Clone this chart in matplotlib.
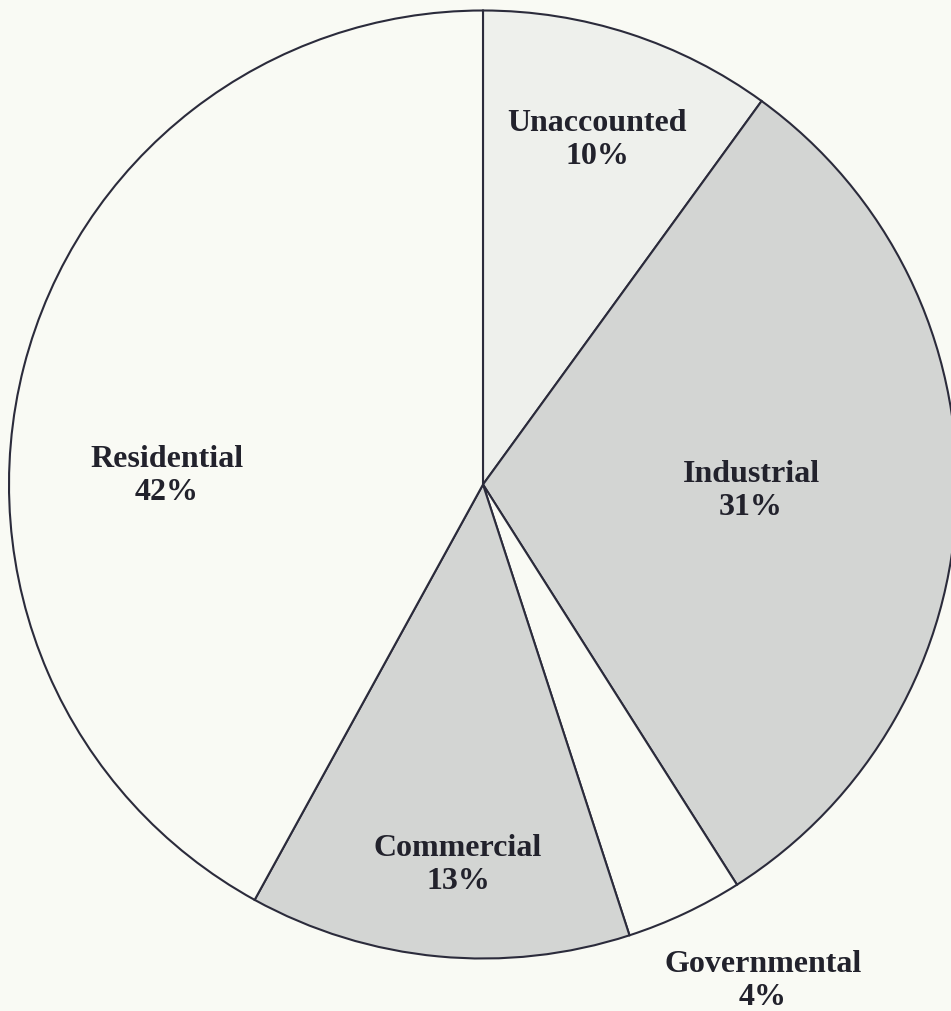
import matplotlib
matplotlib.use("Agg")
import matplotlib.pyplot as plt

# slice data, clockwise from 12 o'clock
sectors = ['Unaccounted', 'Industrial', 'Governmental', 'Commercial', 'Residential']
shares = [10, 31, 4, 13, 42]
fills = ['#eef0ec', '#d3d5d3', '#f9faf4', '#d3d5d3', '#f9faf4']

# label anchor points (pixels from top-left)
label_xy = [(597, 140), (751, 491), (763, 981), (458, 865), (167, 476)]

W, H = 951, 1011
bg = '#f9faf4'

fig = plt.figure(figsize=(W / 100, H / 100), dpi=100, facecolor=bg)
ax = fig.add_axes([0, 0, 1, 1])
ax.set_facecolor(bg)

cx, cy, r = 483, H - 484.5, 474
ax.pie(shares, colors=fills, startangle=90, counterclock=False,
       center=(cx, cy), radius=r, frame=True,
       wedgeprops=dict(edgecolor='#2b2b3b', linewidth=1.5))

for name, val, (x, y) in zip(sectors, shares, label_xy):
    ax.text(x, H - y, '%s\n%d%%' % (name, val), ha='center', va='center',
            fontsize=23, fontweight='bold', family='Liberation Serif',
            color='#22222c', linespacing=1.22)

ax.set_xlim(0, W)
ax.set_ylim(0, H)
ax.set_aspect('equal')
ax.axis('off')

fig.savefig('out.png', dpi=100, facecolor=bg)
